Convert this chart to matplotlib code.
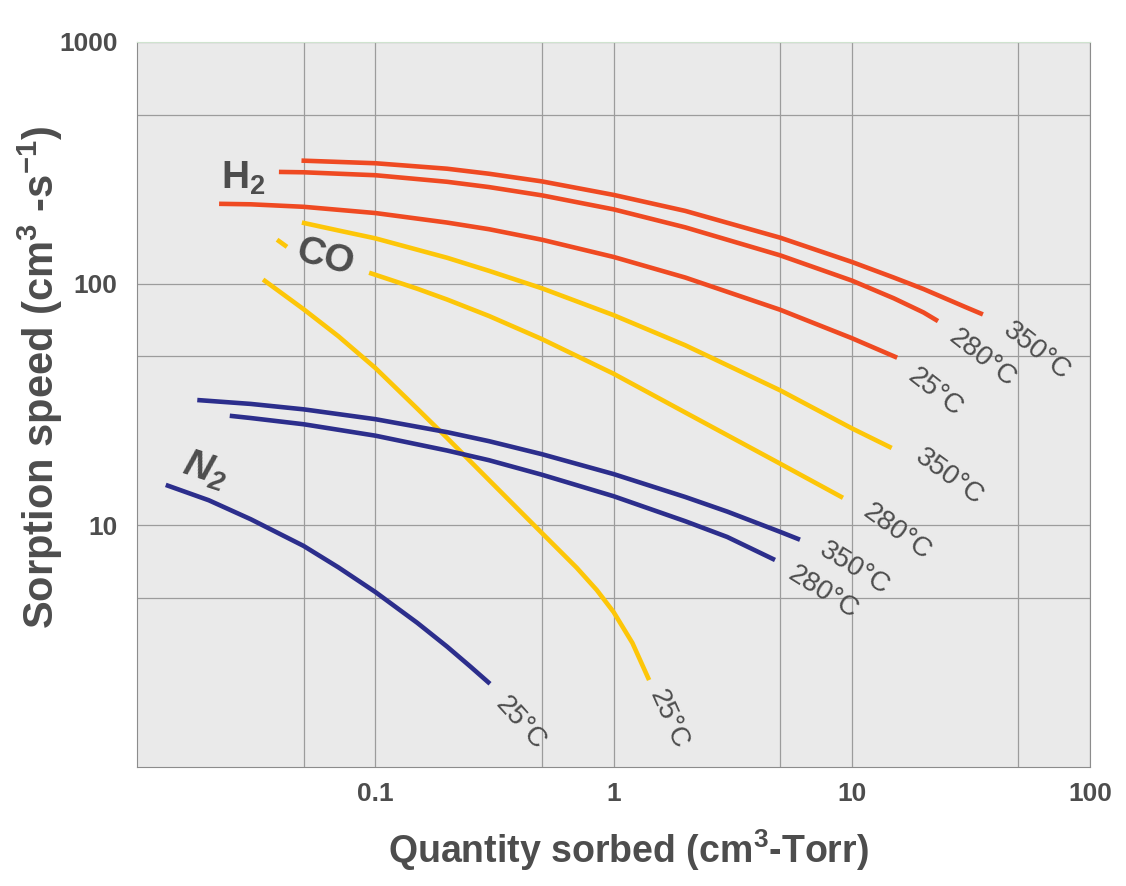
import numpy as np
import matplotlib
matplotlib.use('Agg')
import matplotlib.pyplot as plt
from matplotlib.ticker import NullFormatter

plt.rcParams['font.family'] = ['Liberation Sans', 'DejaVu Sans']
plt.rcParams['mathtext.default'] = 'regular'

# curves (x: cm3-Torr, y: cm3/s)
h2_350_x = [0.049, 0.1, 0.2, 0.3, 0.5, 1, 2, 5, 10, 15, 20, 30, 35.5]
h2_350_y = [323, 315, 299, 285, 265, 233, 200, 155, 123, 106, 95, 80, 74.6]
h2_280_x = [0.0394, 0.05, 0.1, 0.2, 0.3, 0.5, 1, 2, 5, 10, 15, 20, 23.0]
h2_280_y = [290, 289, 281, 264, 251, 232, 203, 171, 131, 103, 87, 76, 70]
h2_25_x = [0.0221, 0.03, 0.05, 0.1, 0.2, 0.3, 0.5, 1, 2, 5, 10, 15.5]
h2_25_y = [214, 213, 208, 196, 179, 168, 152, 129, 106, 78, 59.5, 49.4]

co_350_x = [0.0492, 0.07, 0.1, 0.2, 0.3, 0.5, 1, 2, 5, 10, 14.7]
co_350_y = [179, 166, 154, 128, 113, 95.7, 74.1, 55.6, 36.2, 25.2, 20.9]
# gap where the "CO" label sits
co_280_x = [0.0387, 0.0426, np.nan, 0.0942, 0.15, 0.2, 0.3, 0.5, 1, 2, 5, 9.18]
co_280_y = [152, 142, np.nan, 111, 95.3, 86.0, 73.5, 59.0, 42.4, 29.3, 18.0, 13.0]
co_25_x = [0.0338, 0.05, 0.07, 0.1, 0.15, 0.2, 0.3, 0.5, 0.7, 0.85, 1, 1.2, 1.41]
co_25_y = [104, 78.4, 60.6, 44.8, 30.4, 23.0, 15.4, 9.30, 6.68, 5.40, 4.38, 3.26, 2.29]

n2_350_x = [0.0179, 0.03, 0.05, 0.1, 0.2, 0.3, 0.5, 1, 2, 3, 5, 6.06]
n2_350_y = [33.0, 31.8, 30.2, 27.5, 24.3, 22.3, 19.7, 16.3, 13.1, 11.4, 9.40, 8.72]
n2_280_x = [0.0245, 0.03, 0.05, 0.1, 0.2, 0.3, 0.5, 1, 2, 3, 4.76]
n2_280_y = [28.4, 27.8, 26.2, 23.5, 20.4, 18.6, 16.2, 13.2, 10.4, 8.95, 7.19]
n2_25_x = [0.0132, 0.02, 0.03, 0.05, 0.07, 0.1, 0.15, 0.2, 0.25, 0.303]
n2_25_y = [14.7, 12.7, 10.6, 8.22, 6.70, 5.30, 3.95, 3.15, 2.61, 2.21]

x_ticks = [0.1, 1, 10, 100]
x_tick_labels = ['0.1', '1', '10', '100']
x_minor = [0.05, 0.5, 5, 50]
y_ticks = [10, 100, 1000]
y_tick_labels = ['10', '100', '1000']
y_minor = [5, 50, 500]

# temperature labels: text, x, y, rotation
temp_labels = [
    ('350°C', 59.8, 52.7, -38), ('280°C', 35.5, 49.3, -38), ('25°C', 22.5, 35.3, -38),
    ('350°C', 25.6, 15.9, -36), ('280°C', 15.5, 9.39, -36),
    ('350°C', 10.3, 6.60, -32), ('280°C', 7.56, 5.25, -32),
    ('25°C', 0.408, 1.52, -48), ('25°C', 1.71, 1.57, -66),
]

red = '#ef4a22'
yellow = '#fdc608'
blue = '#2c2e8c'
text_col = '#4d4d4d'

fig = plt.figure(figsize=(11.26, 8.86), dpi=100)
ax = fig.add_axes([0.1217, 0.1343, 0.8464, 0.8183])
ax.set_facecolor('#eaeaea')
ax.set_xscale('log')
ax.set_yscale('log')
ax.set_xlim(0.01, 100)
ax.set_ylim(1, 1000)

ax.set_xticks(x_ticks)
ax.set_xticklabels(x_tick_labels)
ax.set_xticks(x_minor, minor=True)
ax.set_yticks(y_ticks)
ax.set_yticklabels(y_tick_labels)
ax.set_yticks(y_minor, minor=True)
ax.xaxis.set_minor_formatter(NullFormatter())
ax.yaxis.set_minor_formatter(NullFormatter())
ax.grid(True, which='both', color='#9c9c9c', lw=0.9)
ax.set_axisbelow(True)
ax.tick_params(which='both', length=0)
ax.tick_params(axis='x', pad=11, labelsize=19, labelcolor=text_col)
ax.tick_params(axis='y', pad=14, labelsize=19, labelcolor=text_col)
for lab in ax.get_xticklabels() + ax.get_yticklabels():
    lab.set_fontweight('bold')
for side in ['left', 'bottom', 'right']:
    ax.spines[side].set_color('#8c8c8c')
ax.spines['top'].set_color('#cfe3cf')

kw = dict(lw=3.3, solid_capstyle='butt', solid_joinstyle='round', zorder=3)
ax.plot(h2_350_x, h2_350_y, color=red, **kw)
ax.plot(h2_280_x, h2_280_y, color=red, **kw)
ax.plot(h2_25_x, h2_25_y, color=red, **kw)
ax.plot(co_350_x, co_350_y, color=yellow, **kw)
ax.plot(co_280_x, co_280_y, color=yellow, **kw)
ax.plot(co_25_x, co_25_y, color=yellow, **kw)
ax.plot(n2_350_x, n2_350_y, color=blue, **kw)
ax.plot(n2_280_x, n2_280_y, color=blue, **kw)
ax.plot(n2_25_x, n2_25_y, color=blue, **kw)

for s, tx, ty, rot in temp_labels:
    ax.text(tx, ty, s, rotation=rot, rotation_mode='anchor', ha='center', va='center',
            fontsize=20, color=text_col, zorder=4)

ax.text(0.0279, 274, 'H$_2$', fontsize=28, fontweight='bold', color=text_col,
        ha='center', va='center', zorder=4)
ax.text(0.0615, 128, 'CO', fontsize=28, fontweight='bold', color=text_col, rotation=-15,
        rotation_mode='anchor', ha='center', va='center', zorder=4)
ax.text(0.0193, 16.9, 'N$_2$', fontsize=28, fontweight='bold', style='italic', color=text_col,
        rotation=-18, rotation_mode='anchor', ha='center', va='center', zorder=4)

fig.text(628 / 1126, 1 - 850 / 886, 'Quantity sorbed (cm$^3$-Torr)', fontsize=27,
         fontweight='bold', color=text_col, ha='center', va='center')
fig.text(40 / 1126, 1 - 377 / 886, 'Sorption speed (cm$^3$ -s$^{-1}$)', fontsize=30,
         fontweight='bold', color=text_col, rotation=90, ha='center', va='center')

fig.savefig('out.png', dpi=100, facecolor='white')
